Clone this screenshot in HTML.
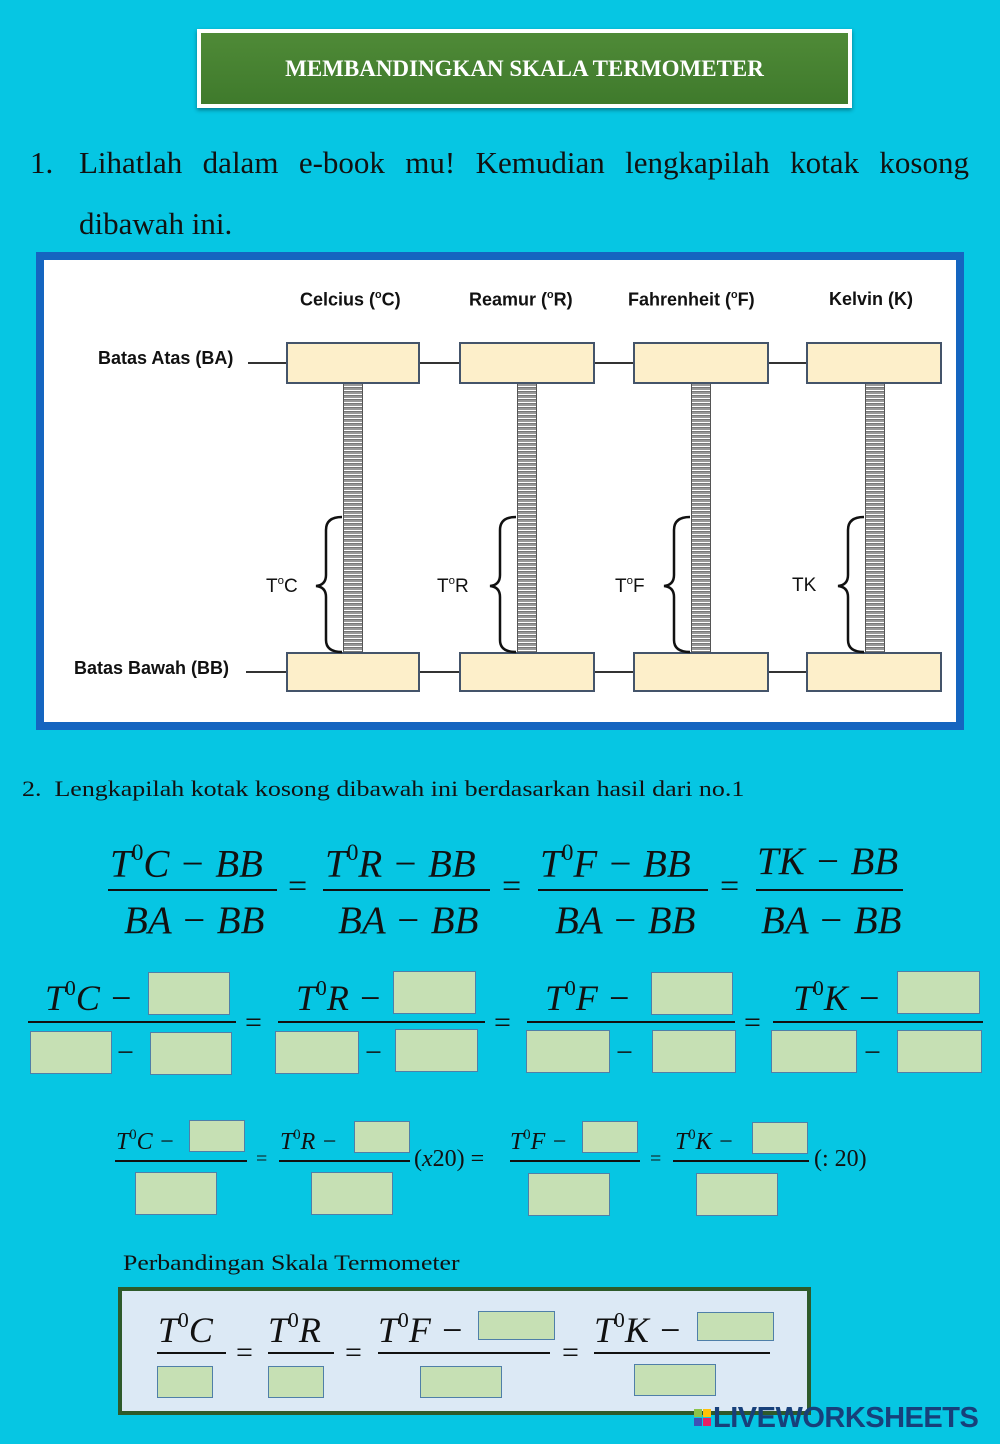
<!DOCTYPE html>
<html><head><meta charset="utf-8">
<style>
*{margin:0;padding:0;box-sizing:border-box}
body{width:1000px;height:1444px;background:#06c6e3;position:relative;overflow:hidden;font-family:"Liberation Serif",serif;color:#111}
.a{position:absolute}
.g{position:absolute;background:#c6e0b4;border:1.5px solid #4f7fa8}
.y{position:absolute;background:#fdefca;border:2px solid #44546a}
.bar{position:absolute;height:2px;background:#111}
.m{position:absolute;font-style:italic;line-height:1;white-space:nowrap}
.eq{position:absolute;line-height:1}
.hd{position:absolute;font-family:"Liberation Sans",sans-serif;font-weight:bold;font-size:18px;line-height:1;white-space:nowrap}
.ln{position:absolute;height:1.5px;background:#333}
.tube{position:absolute;width:20px;border:1.5px solid #555;background:repeating-linear-gradient(180deg,#999 0 2px,#fff 2px 3px,#777 3px 4px)}
sup{font-size:60%;font-style:normal;vertical-align:0.7em}
</style></head><body>

<div class="a" style="left:197px;top:29px;width:655px;height:79px;background:linear-gradient(#4f8a37,#3f7a2c);border:4px solid #fff;box-shadow:0 2px 4px rgba(0,0,0,.4);color:#fff;font-weight:bold;font-size:23px;text-align:center;line-height:71px">MEMBANDINGKAN SKALA TERMOMETER</div>

<div class="a" style="left:30px;top:147px;font-size:31px;line-height:1">1.</div>
<div class="a" style="left:79px;top:147px;width:890px;font-size:31px;line-height:1;text-align:justify;text-align-last:justify">Lihatlah dalam e-book mu! Kemudian lengkapilah kotak kosong</div>
<div class="a" style="left:79px;top:208px;font-size:31px;line-height:1">dibawah ini.</div>

<!-- diagram -->
<div class="a" style="left:36px;top:252px;width:928px;height:478px;background:#fff;border:8px solid #1565c0"></div>
<div class="hd" style="left:300px;top:290px">Celcius (<sup>o</sup>C)</div>
<div class="hd" style="left:469px;top:290px">Reamur (<sup>o</sup>R)</div>
<div class="hd" style="left:628px;top:290px">Fahrenheit (<sup>o</sup>F)</div>
<div class="hd" style="left:829px;top:290px">Kelvin (K)</div>
<div class="hd" style="left:98px;top:349px">Batas Atas (BA)</div>
<div class="hd" style="left:74px;top:659px">Batas Bawah (BB)</div>
<div class="ln" style="left:248px;top:362px;width:38px"></div>
<div class="ln" style="left:246px;top:671px;width:40px"></div>
<div class="ln" style="left:420px;top:362px;width:39px"></div>
<div class="ln" style="left:595px;top:362px;width:38px"></div>
<div class="ln" style="left:769px;top:362px;width:37px"></div>
<div class="ln" style="left:420px;top:671px;width:39px"></div>
<div class="ln" style="left:595px;top:671px;width:38px"></div>
<div class="ln" style="left:769px;top:671px;width:37px"></div>

<div class="tube" style="left:343px;top:383px;height:270px"></div>
<div class="tube" style="left:517px;top:383px;height:270px"></div>
<div class="tube" style="left:691px;top:383px;height:270px"></div>
<div class="tube" style="left:865px;top:383px;height:270px"></div>

<div class="y" style="left:286px;top:342px;width:134px;height:42px"></div>
<div class="y" style="left:459px;top:342px;width:136px;height:42px"></div>
<div class="y" style="left:633px;top:342px;width:136px;height:42px"></div>
<div class="y" style="left:806px;top:342px;width:136px;height:42px"></div>
<div class="y" style="left:286px;top:652px;width:134px;height:40px"></div>
<div class="y" style="left:459px;top:652px;width:136px;height:40px"></div>
<div class="y" style="left:633px;top:652px;width:136px;height:40px"></div>
<div class="y" style="left:806px;top:652px;width:136px;height:40px"></div>

<svg class="a" style="left:0;top:0" width="1000" height="1444">
<g fill="none" stroke="#111" stroke-width="2.5">
<path d="M342 517 Q326 517 326 530 L326 575 Q326 585 316 586 Q326 587 326 597 L326 640 Q326 652 342 652"/>
<path d="M516 517 Q500 517 500 530 L500 575 Q500 585 490 586 Q500 587 500 597 L500 640 Q500 652 516 652"/>
<path d="M690 517 Q674 517 674 530 L674 575 Q674 585 664 586 Q674 587 674 597 L674 640 Q674 652 690 652"/>
<path d="M864 517 Q848 517 848 530 L848 575 Q848 585 838 586 Q848 587 848 597 L848 640 Q848 652 864 652"/>
</g></svg>
<div class="a" style="left:266px;top:576px;font-family:'Liberation Sans',sans-serif;font-size:19px;line-height:1">T<sup>o</sup>C</div>
<div class="a" style="left:437px;top:576px;font-family:'Liberation Sans',sans-serif;font-size:19px;line-height:1">T<sup>o</sup>R</div>
<div class="a" style="left:615px;top:576px;font-family:'Liberation Sans',sans-serif;font-size:19px;line-height:1">T<sup>o</sup>F</div>
<div class="a" style="left:792px;top:576px;font-family:'Liberation Sans',sans-serif;font-size:19px;line-height:1">TK</div>

<div class="a" style="left:22px;top:778px;font-size:22px;line-height:1;white-space:nowrap;transform:scaleX(1.18);transform-origin:left top">2.&nbsp; Lengkapilah kotak kosong dibawah ini berdasarkan hasil dari no.1</div>

<!-- line 1 -->
<div class="m" style="left:110px;top:842px;font-size:39px">T<sup>0</sup>C − BB</div>
<div class="m" style="left:124px;top:901px;font-size:39px">BA − BB</div>
<div class="bar" style="left:108px;top:889px;width:169px"></div>
<div class="eq" style="left:288px;top:870px;font-size:34px">=</div>
<div class="m" style="left:325px;top:842px;font-size:39px">T<sup>0</sup>R − BB</div>
<div class="m" style="left:338px;top:901px;font-size:39px">BA − BB</div>
<div class="bar" style="left:323px;top:889px;width:167px"></div>
<div class="eq" style="left:502px;top:870px;font-size:34px">=</div>
<div class="m" style="left:540px;top:842px;font-size:39px">T<sup>0</sup>F − BB</div>
<div class="m" style="left:555px;top:901px;font-size:39px">BA − BB</div>
<div class="bar" style="left:538px;top:889px;width:170px"></div>
<div class="eq" style="left:720px;top:870px;font-size:34px">=</div>
<div class="m" style="left:757px;top:842px;font-size:39px">TK − BB</div>
<div class="m" style="left:761px;top:901px;font-size:39px">BA − BB</div>
<div class="bar" style="left:756px;top:889px;width:147px"></div>

<!-- line 2 -->
<div class="m" style="left:45px;top:978px;font-size:36px">T<sup>0</sup>C −</div>
<div class="g" style="left:148px;top:972px;width:82px;height:43px"></div>
<div class="bar" style="left:28px;top:1021px;width:208px"></div>
<div class="g" style="left:30px;top:1031px;width:82px;height:43px"></div>
<div class="eq" style="left:117px;top:1038px;font-size:30px">−</div>
<div class="g" style="left:150px;top:1032px;width:82px;height:43px"></div>
<div class="eq" style="left:245px;top:1008px;font-size:30px">=</div>

<div class="m" style="left:296px;top:978px;font-size:36px">T<sup>0</sup>R −</div>
<div class="g" style="left:393px;top:971px;width:83px;height:43px"></div>
<div class="bar" style="left:278px;top:1021px;width:207px"></div>
<div class="g" style="left:275px;top:1031px;width:84px;height:43px"></div>
<div class="eq" style="left:365px;top:1038px;font-size:30px">−</div>
<div class="g" style="left:395px;top:1029px;width:83px;height:43px"></div>
<div class="eq" style="left:494px;top:1008px;font-size:30px">=</div>

<div class="m" style="left:545px;top:978px;font-size:36px">T<sup>0</sup>F −</div>
<div class="g" style="left:651px;top:972px;width:82px;height:43px"></div>
<div class="bar" style="left:527px;top:1021px;width:208px"></div>
<div class="g" style="left:526px;top:1030px;width:84px;height:43px"></div>
<div class="eq" style="left:616px;top:1038px;font-size:30px">−</div>
<div class="g" style="left:652px;top:1030px;width:84px;height:43px"></div>
<div class="eq" style="left:744px;top:1008px;font-size:30px">=</div>

<div class="m" style="left:793px;top:978px;font-size:36px">T<sup>0</sup>K −</div>
<div class="g" style="left:897px;top:971px;width:83px;height:43px"></div>
<div class="bar" style="left:773px;top:1021px;width:210px"></div>
<div class="g" style="left:771px;top:1030px;width:86px;height:43px"></div>
<div class="eq" style="left:864px;top:1038px;font-size:30px">−</div>
<div class="g" style="left:897px;top:1030px;width:85px;height:43px"></div>

<!-- line 3 -->
<div class="m" style="left:116px;top:1128px;font-size:24px">T<sup>0</sup>C −</div>
<div class="g" style="left:189px;top:1120px;width:56px;height:32px"></div>
<div class="bar" style="left:115px;top:1160px;width:132px;height:1.5px"></div>
<div class="g" style="left:135px;top:1172px;width:82px;height:43px"></div>
<div class="eq" style="left:256px;top:1149px;font-size:20px">=</div>
<div class="m" style="left:280px;top:1128px;font-size:24px">T<sup>0</sup>R −</div>
<div class="g" style="left:354px;top:1121px;width:56px;height:32px"></div>
<div class="bar" style="left:279px;top:1160px;width:131px;height:1.5px"></div>
<div class="g" style="left:311px;top:1172px;width:82px;height:43px"></div>
<div class="a" style="left:414px;top:1147px;font-size:24px;line-height:1">(<i>x</i>20) =</div>
<div class="m" style="left:510px;top:1128px;font-size:24px">T<sup>0</sup>F −</div>
<div class="g" style="left:582px;top:1121px;width:56px;height:32px"></div>
<div class="bar" style="left:510px;top:1160px;width:130px;height:1.5px"></div>
<div class="g" style="left:528px;top:1173px;width:82px;height:43px"></div>
<div class="eq" style="left:650px;top:1149px;font-size:20px">=</div>
<div class="m" style="left:675px;top:1128px;font-size:24px">T<sup>0</sup>K −</div>
<div class="g" style="left:752px;top:1122px;width:56px;height:32px"></div>
<div class="bar" style="left:673px;top:1160px;width:136px;height:1.5px"></div>
<div class="g" style="left:696px;top:1173px;width:82px;height:43px"></div>
<div class="a" style="left:814px;top:1147px;font-size:24px;line-height:1">(: 20)</div>

<div class="a" style="left:123px;top:1252px;font-size:22px;line-height:1;white-space:nowrap;transform:scaleX(1.17);transform-origin:left top">Perbandingan Skala Termometer</div>

<div class="a" style="left:118px;top:1287px;width:693px;height:128px;background:#dce9f5;border:4px solid #2e5a2a"></div>
<div class="m" style="left:158px;top:1310px;font-size:36px">T<sup>0</sup>C</div>
<div class="bar" style="left:157px;top:1352px;width:69px"></div>
<div class="g" style="left:157px;top:1366px;width:56px;height:32px"></div>
<div class="eq" style="left:236px;top:1338px;font-size:30px">=</div>
<div class="m" style="left:268px;top:1310px;font-size:36px">T<sup>0</sup>R</div>
<div class="bar" style="left:268px;top:1352px;width:66px"></div>
<div class="g" style="left:268px;top:1366px;width:56px;height:32px"></div>
<div class="eq" style="left:345px;top:1338px;font-size:30px">=</div>
<div class="m" style="left:378px;top:1310px;font-size:36px">T<sup>0</sup>F −</div>
<div class="g" style="left:478px;top:1311px;width:77px;height:29px"></div>
<div class="bar" style="left:378px;top:1352px;width:172px"></div>
<div class="g" style="left:420px;top:1366px;width:82px;height:32px"></div>
<div class="eq" style="left:562px;top:1338px;font-size:30px">=</div>
<div class="m" style="left:594px;top:1310px;font-size:36px">T<sup>0</sup>K −</div>
<div class="g" style="left:697px;top:1312px;width:77px;height:29px"></div>
<div class="bar" style="left:594px;top:1352px;width:176px"></div>
<div class="g" style="left:634px;top:1364px;width:82px;height:32px"></div>

<!-- logo -->
<div class="a" style="left:694px;top:1409px;width:8px;height:8px;background:#8bc34a"></div>
<div class="a" style="left:703px;top:1409px;width:8px;height:8px;background:#ffc107"></div>
<div class="a" style="left:694px;top:1418px;width:8px;height:8px;background:#3f51b5"></div>
<div class="a" style="left:703px;top:1418px;width:8px;height:8px;background:#e91e63"></div>
<div class="a" style="left:713px;top:1404px;font-family:'Liberation Sans',sans-serif;font-weight:bold;font-size:29px;line-height:1;color:#17407a;letter-spacing:-0.5px">LIVEWORKSHEETS</div>
</body></html>
